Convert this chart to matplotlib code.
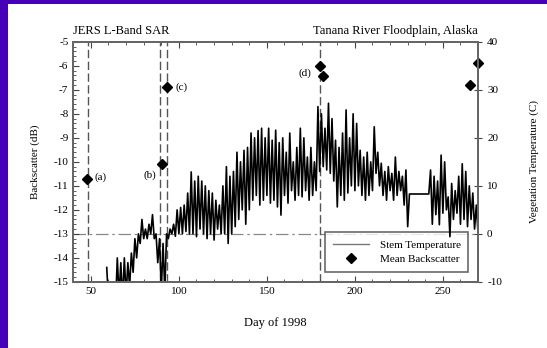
import matplotlib
matplotlib.use("Agg")
import matplotlib.pyplot as plt
from matplotlib.patches import Rectangle
from matplotlib.ticker import MultipleLocator

plt.rcParams['font.family'] = ['Liberation Serif', 'DejaVu Serif']
plt.rcParams['axes.unicode_minus'] = False

# stem temperature, read as (day, daily max, daily min) in deg C
temp_days = [59, 61, 63, 65, 67, 69, 71, 73, 75, 77, 79, 81, 83, 85, 87, 89, 91,
             93, 95, 97, 99, 101, 103, 105, 107, 109, 111, 113, 115, 117, 119, 121,
             123, 125, 127, 129, 131, 133, 135, 137, 139, 141, 143, 145, 147, 149,
             151, 153, 155, 157, 159, 161, 163, 165, 167, 169, 171, 173, 175, 177,
             179, 181, 183, 185, 187, 189, 191, 193, 195, 197, 199, 201, 203, 205,
             207, 209, 211, 213, 215, 217, 219, 221, 223, 225, 227, 229, 231, 241,
             243, 245, 247, 249, 251, 253, 255, 257, 259, 261, 263, 265, 267, 269]
temp_max = [-7, -13, -12, -5, -6, -5, -6, -4, -1, 0, 3, 1, 2, 4, 0, -1, -2,
            0, 1, 2, 5, 5.5, 6, 8.5, 12.9, 11, 12, 11, 10, 9, 8.5, 7,
            6, 10, 14, 12, 13, 17, 15, 17.4, 18, 21, 20, 21.5, 22, 20,
            22, 19.5, 21.6, 19, 20, 17, 21, 15, 18, 22, 20, 16, 18, 15,
            26.5, 25, 22, 27.2, 24, 19.5, 18, 21, 25.8, 20, 25, 23, 17.4, 16,
            17, 15, 22.3, 17, 14.7, 13, 14, 12.6, 16, 13, 12, 13.3, 8.3, 8.3,
            13.3, 12, 11, 16.4, 15, 7.7, 10.5, 9, 12, 14.6, 13, 10, 8.5, 6]
temp_min = [-14, -15, -15, -13, -14, -13, -11, -8, -5, -2, -1, -1, 0, -1, -6, -12, -12,
            -1, 0, -0.5, 0, 0, 0.5, 0, 0, -0.6, 1, 0, -1, 0, -1.3, 1,
            0, 0, -2, 0, 1.5, 3, 5, 2, 5, 7, 8, 6, 7, 8,
            6.4, 7, 5.6, 3.9, 8, 6.4, 9, 7, 8, 7.7, 9, 7, 8, 9,
            13, 14, 13.3, 12.6, 11, 5.6, 8, 7, 8.5, 10, 9, 10, 8, 7,
            8, 9, 12.6, 10, 8, 7, 9, 7, 8, 9, 6, 1.5, 8.3, 8.3,
            2, 4, 1.9, 4.3, 5, -0.6, 3, 4.3, 2, 3, 1.5, 3, 1, 0]

# mean backscatter acquisitions (dB)
sar_days = [48, 90.2, 93, 180, 182, 265.4, 270]
sar_db = [-10.72, -10.1, -6.9, -6.01, -6.42, -6.8, -5.9]
event_days = [48.5, 89.3, 93.1, 180.2]
event_labels = ['(a)', '(b)', '(c)', '(d)']
label_pos = [(52, -10.65), (80, -10.55), (98, -6.9), (168, -6.3)]

fig = plt.figure(figsize=(5.47, 3.48), dpi=100)
fig.patch.set_facecolor('#4600b8')
fig.patches.append(Rectangle((8 / 547, 0), 1, 1 - 4 / 348, transform=fig.transFigure,
                             facecolor='white', edgecolor='none', zorder=-10))

ax = fig.add_axes([0.134, 0.19, 0.74, 0.69])
ax.set_facecolor('none')
ax2 = ax.twinx()

# zigzag max/min so the diurnal cycle reads as dense strokes
zx, zy = [], []
for d, hi, lo in zip(temp_days, temp_max, temp_min):
    zx += [d, d + 1]
    zy += [hi, lo]
ax2.plot(zx, zy, color='black', lw=1.2, zorder=2)
ax2.set_ylim(-10, 40)
ax2.yaxis.set_major_locator(MultipleLocator(10))

ax.axhline(-13, color='#888888', lw=0.9, ls=(0, (10, 3, 2, 3)), zorder=1)
for d in event_days:
    ax.axvline(d, color='#555555', lw=1.0, ls=(0, (6, 2.5)), zorder=1)

ax.plot(sar_days, sar_db, 'D', color='black', ms=5, zorder=5, clip_on=False)
for lab, (x, y) in zip(event_labels, label_pos):
    ax.text(x, y, lab, fontsize=8, va='center', ha='left')

ax.set_xlim(40, 270)
ax.set_ylim(-15, -5)
ax.xaxis.set_major_locator(MultipleLocator(50))
ax.xaxis.set_minor_locator(MultipleLocator(10))
ax.yaxis.set_major_locator(MultipleLocator(1))
ax.yaxis.set_minor_locator(MultipleLocator(0.2))
ax.tick_params(which='both', direction='in', top=True, labelsize=8, colors='#444444',
               labelcolor='black')
ax.tick_params(axis='y', which='both', right=False)
ax.tick_params(which='major', length=4)
ax.tick_params(which='minor', length=2)
ax2.tick_params(direction='inout', length=6, labelsize=8, colors='#444444', labelcolor='black')

for a in (ax, ax2):
    for s in a.spines.values():
        s.set_color('#666666')
        s.set_linewidth(1.4)

ax.set_xlabel('Day of 1998', fontsize=9, labelpad=15)
ax.set_ylabel('Backscatter (dB)', fontsize=8, labelpad=10)
ax2.set_ylabel('Vegetation Temperature (C)', fontsize=8, labelpad=20)

fig.text(0.134, 0.895, 'JERS L-Band SAR', fontsize=9, ha='left', va='bottom')
fig.text(0.874, 0.895, 'Tanana River Floodplain, Alaska', fontsize=9, ha='right', va='bottom')

h1, = ax.plot([], [], color='#777777', lw=1.0, label='Stem Temperature')
h2, = ax.plot([], [], 'D', color='black', ms=5, label='Mean Backscatter')
leg = ax.legend(handles=[h1, h2], loc='lower right', fontsize=8, frameon=True,
                fancybox=False, edgecolor='#444444', borderpad=0.7, labelspacing=0.4,
                bbox_to_anchor=(0.99, 0.02), handlelength=3.2, handletextpad=1.0)
leg.get_frame().set_linewidth(1.2)

fig.savefig('out.png', dpi=100, facecolor=fig.get_facecolor())
